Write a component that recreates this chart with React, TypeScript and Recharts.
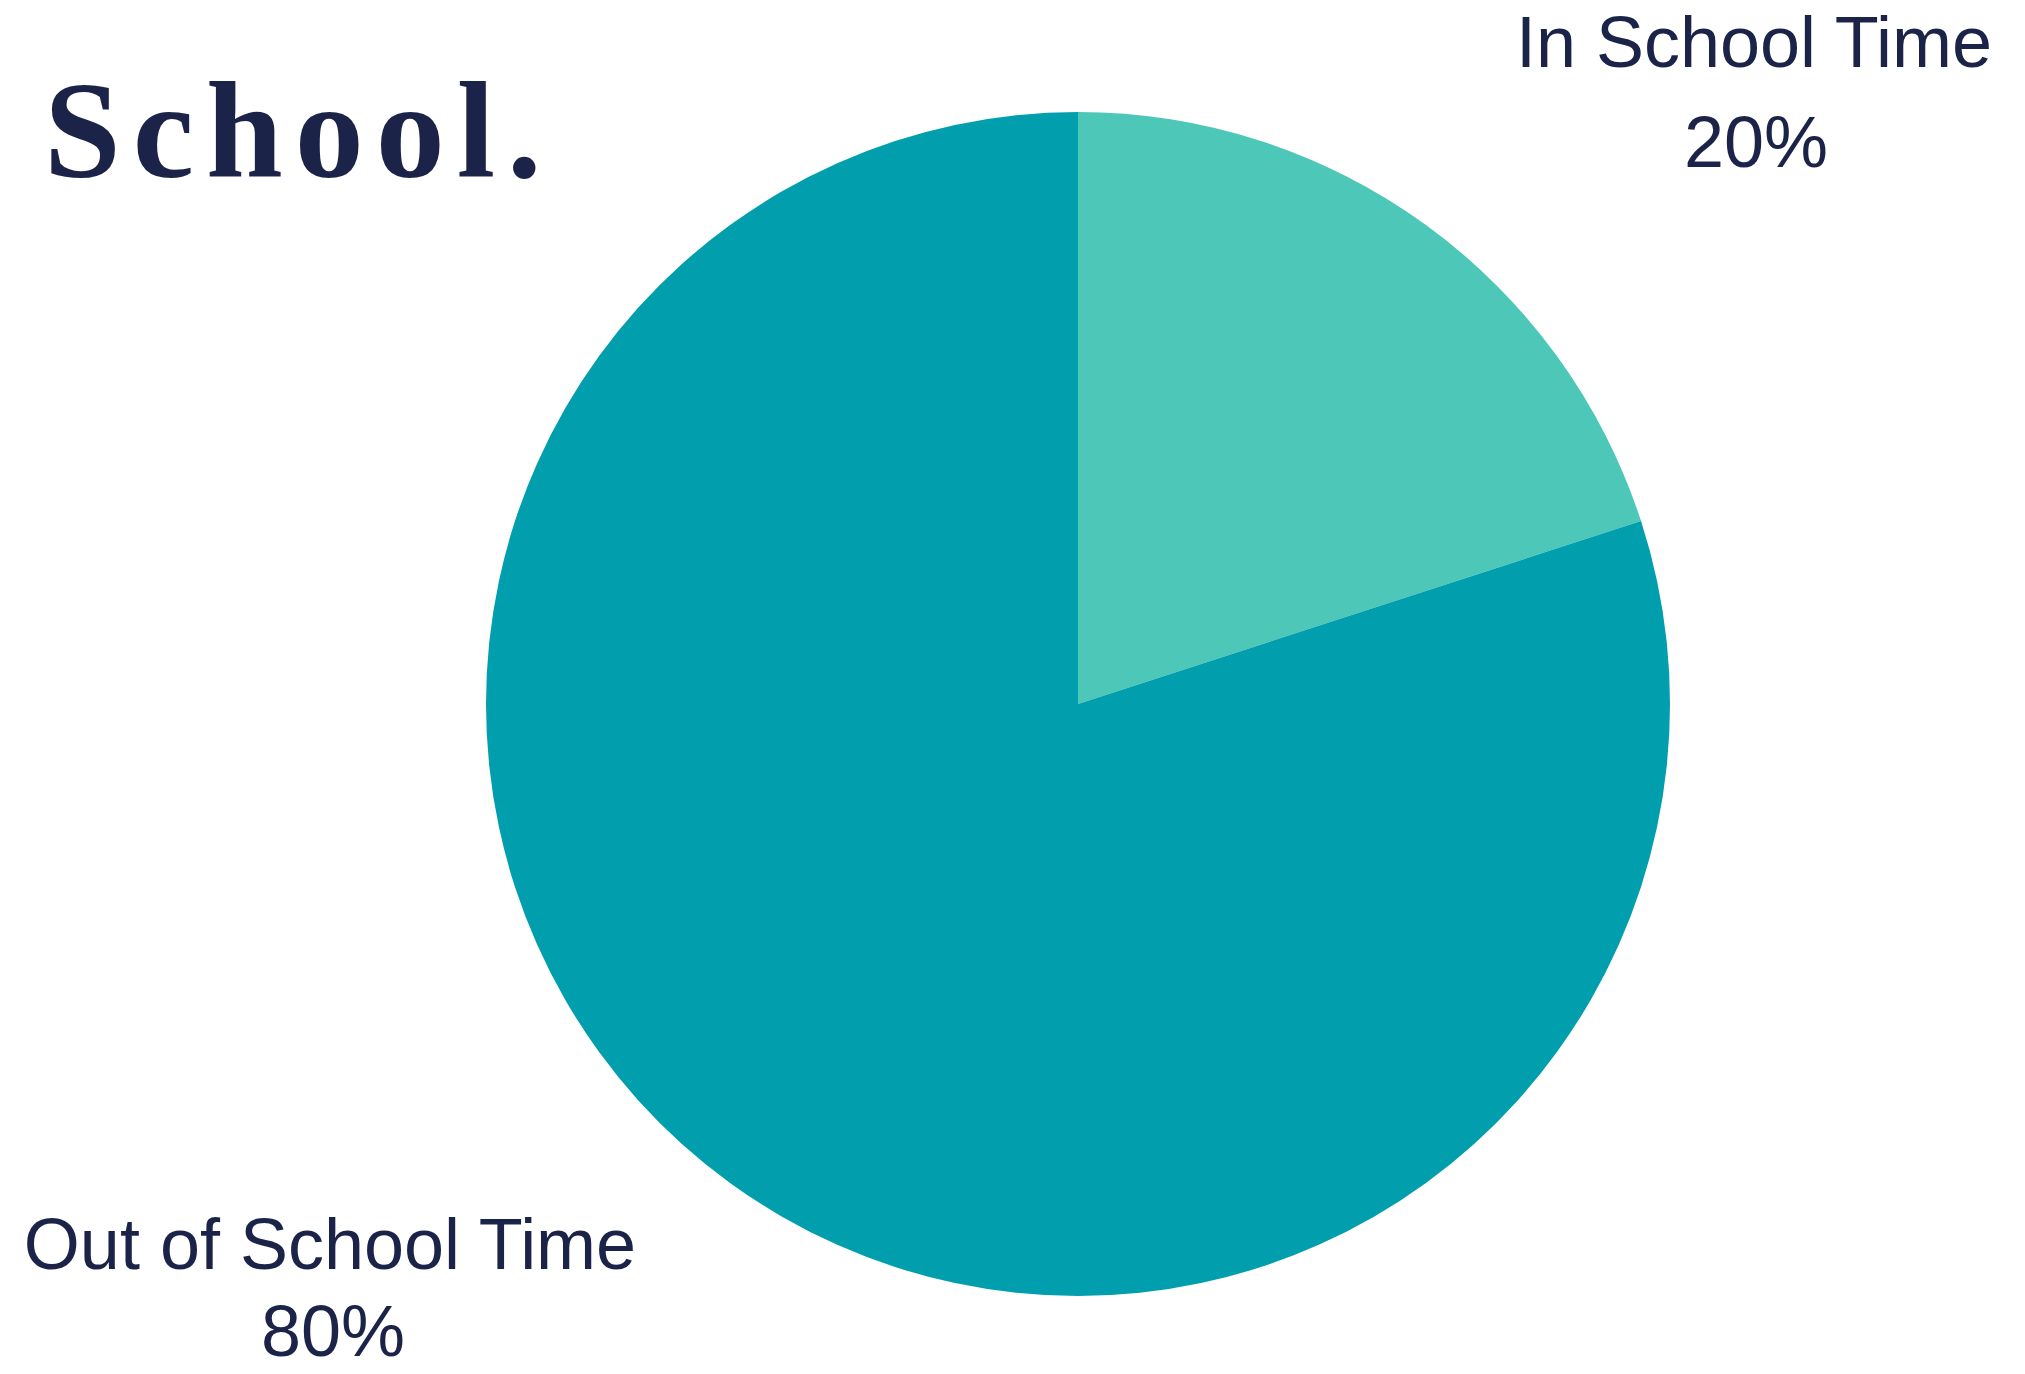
import { Cell, Pie, PieChart } from "recharts";

const segmentNames = ["In School Time", "Out of School Time"];
const segmentShares = [20, 80];
const segmentColors = ["#4DC7B8", "#019EAD"];

const data = segmentNames.map((name, i) => ({ name, value: segmentShares[i] }));

const ink = "#1B2448";
const labelFont = "'Liberation Sans', Arial, sans-serif";

export default function App() {
  return (
    <div
      style={{
        position: "absolute",
        left: 0,
        top: 0,
        width: 2025,
        height: 1374,
        background: "#ffffff",
        overflow: "hidden",
      }}
    >
      <PieChart width={2025} height={1374} margin={{ top: 0, right: 0, bottom: 0, left: 0 }}>
        <Pie
          data={data}
          dataKey="value"
          nameKey="name"
          cx={1078}
          cy={704}
          innerRadius={0}
          outerRadius={592}
          startAngle={90}
          endAngle={-270}
          stroke="none"
          isAnimationActive={false}
        >
          {data.map((d, i) => (
            <Cell key={d.name} fill={segmentColors[i]} />
          ))}
        </Pie>
      </PieChart>
      <svg
        width={2025}
        height={1374}
        style={{ position: "absolute", left: 0, top: 0, pointerEvents: "none" }}
      >
        <text
          x={44}
          y={177}
          fill={ink}
          fontFamily="'Liberation Serif', 'Times New Roman', serif"
          fontWeight="bold"
          fontSize={138}
          letterSpacing={12}
        >
          School.
        </text>
        <text x={1754} y={67} textAnchor="middle" fill={ink} fontFamily={labelFont} fontSize={72}>
          {data[0].name}
        </text>
        <text x={1756} y={167} textAnchor="middle" fill={ink} fontFamily={labelFont} fontSize={72}>
          {`${data[0].value}%`}
        </text>
        <text x={330} y={1269} textAnchor="middle" fill={ink} fontFamily={labelFont} fontSize={72}>
          {data[1].name}
        </text>
        <text x={333} y={1356} textAnchor="middle" fill={ink} fontFamily={labelFont} fontSize={72}>
          {`${data[1].value}%`}
        </text>
      </svg>
    </div>
  );
}
